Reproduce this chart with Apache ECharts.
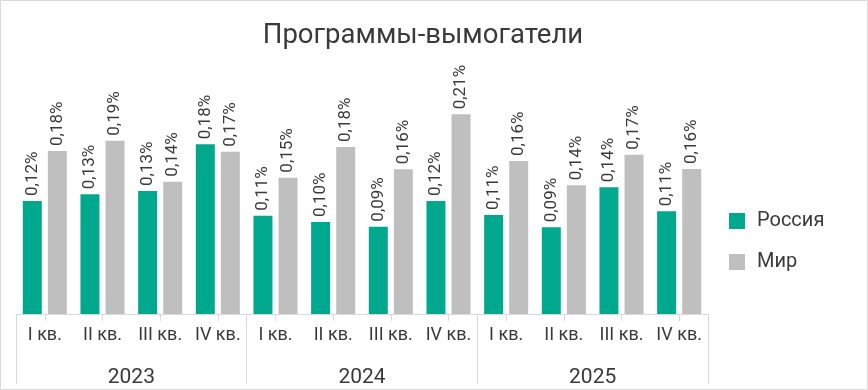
<!DOCTYPE html>
<html>
<head>
<meta charset="utf-8">
<script src="https://cdn.jsdelivr.net/npm/echarts@6/dist/echarts.min.js"></script>
<style>html,body{margin:0;padding:0;background:#fff}#c{width:868px;height:390px}</style>
</head>
<body>
<div id="c"></div>
<script>
const quarters = ['I кв.','II кв.','III кв.','IV кв.','I кв.','II кв.','III кв.','IV кв.','I кв.','II кв.','III кв.','IV кв.'];
const years = ['2023','2024','2025'];
const russia = [0.1215,0.1287,0.1323,0.1825,0.1057,0.0989,0.0939,0.1215,0.1065,0.0932,0.1362,0.1104];
const world  = [0.1753,0.1863,0.1423,0.1745,0.1466,0.1796,0.1556,0.2147,0.1645,0.1384,0.1713,0.1559];
const seriesNames = ['Россия','Мир'];
const title = 'Программы-вымогатели';

const FONT = 'Roboto';
const TXT = '#3a3a3a';
const LINE = '#D9D9D9';
const fmt = p => p.value.toFixed(2).replace('.', ',') + '%';

const chart = echarts.init(document.getElementById('c'), null, {renderer:'canvas'});
const labelCfg = {
  show: true, position: 'top', rotate: 90, align: 'left', verticalAlign: 'middle',
  distance: 5, color: TXT, fontFamily: FONT, fontSize: 17, formatter: fmt
};
chart.setOption({
  animation: false,
  title: {text: title, left: 418, textAlign: 'center', top: 17,
    textStyle: {fontFamily: FONT, fontWeight: 'normal', fontSize: 27.5, color: TXT}},
  legend: {
    orient: 'vertical', left: 724, top: 206, itemWidth: 16, itemHeight: 16, itemGap: 21,
    icon: 'rect', data: seriesNames,
    textStyle: {fontFamily: FONT, fontSize: 20, color: TXT, padding: [0,0,0,7]}
  },
  grid: {left: 16, right: 160, top: 81.5, bottom: 76},
  xAxis: [
    {type: 'category', data: quarters, position: 'bottom',
      axisLine: {show: true, lineStyle: {color: LINE, width: 1}},
      axisTick: {show: true, alignWithLabel: true, length: 7, lineStyle: {color: LINE}},
      axisLabel: {interval: 0, margin: 12, color: TXT, fontFamily: FONT, fontSize: 18}},
    {type: 'category', data: years, position: 'bottom',
      axisLine: {show: false},
      axisTick: {show: true, length: 70, interval: 0, lineStyle: {color: LINE}},
      axisLabel: {interval: 0, margin: 53, color: TXT, fontFamily: FONT, fontSize: 21}}
  ],
  yAxis: {type: 'value', min: 0, max: 0.25, show: false, splitLine: {show: false}},
  series: [
    {name: seriesNames[0], type: 'bar', data: russia, barWidth: 19, barGap: '32%',
      itemStyle: {color: '#00A88E'}, label: labelCfg},
    {name: seriesNames[1], type: 'bar', data: world, barWidth: 19,
      itemStyle: {color: '#BFBFBF'}, label: labelCfg}
  ],
  graphic: [{type: 'rect', shape: {x: 0.5, y: 0.5, width: 867, height: 389},
    style: {fill: 'none', stroke: LINE, lineWidth: 1}, silent: true}]
});
</script>
</body>
</html>
